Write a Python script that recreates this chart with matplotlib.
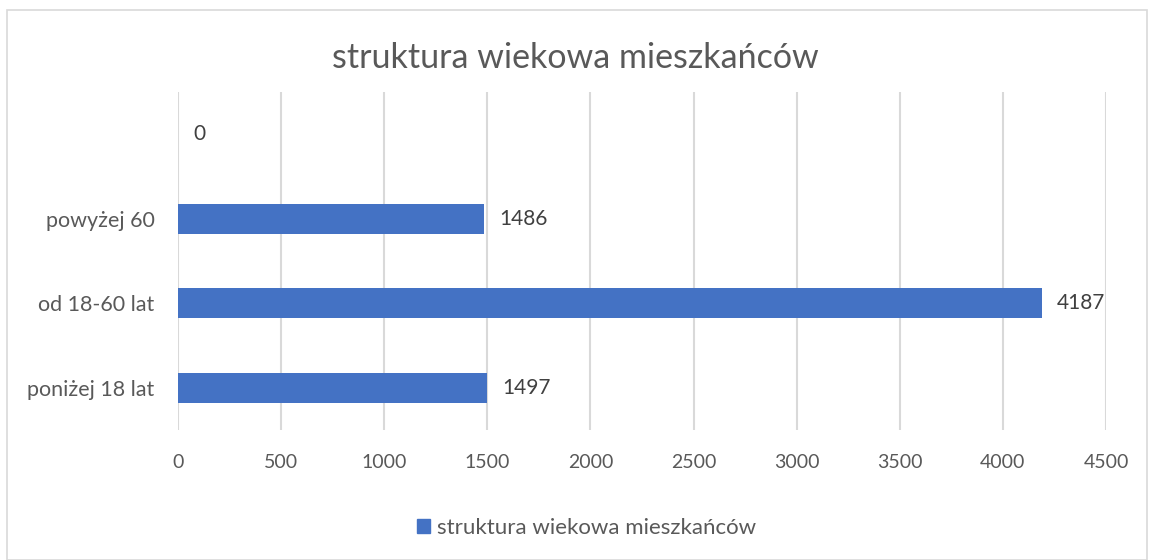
import matplotlib.pyplot as plt
from matplotlib.patches import Rectangle, Patch

# data
categories = ['poniżej 18 lat', 'od 18-60 lat', 'powyżej 60', '']
values = [1497, 4187, 1486, 0]
x_ticks = [0, 500, 1000, 1500, 2000, 2500, 3000, 3500, 4000, 4500]
title = 'struktura wiekowa mieszkańców'
series_name = 'struktura wiekowa mieszkańców'

plt.rcParams['font.family'] = ['Lato', 'DejaVu Sans']
bar_color = '#4472C4'
text_gray = '#595959'

fig = plt.figure(figsize=(11.5, 5.6), dpi=100)
ax = fig.add_axes([0.1548, 0.2321, 0.8070, 0.6036])

# chart border like in the spreadsheet export
fig.patches.append(Rectangle((7 / 1150, 0.0), 1140 / 1150, 550 / 560,
                             transform=fig.transFigure, fill=False,
                             edgecolor='#D9D9D9', linewidth=1.2))

ypos = range(len(categories))
bars = ax.barh(ypos, values, height=0.36, color=bar_color, zorder=3)
for b, v in zip(bars, values):
    ax.annotate(str(v), (b.get_width(), b.get_y() + b.get_height() / 2),
                xytext=(11, 0), textcoords='offset points', va='center',
                ha='left', fontsize=15, color='#404040')

ax.set_xlim(0, 4500)
ax.set_ylim(-0.5, len(categories) - 0.5)
ax.set_xticks(x_ticks)
ax.set_xticklabels([str(t) for t in x_ticks])
ax.set_yticks(list(ypos))
ax.set_yticklabels(categories)
ax.tick_params(axis='both', length=0, labelcolor=text_gray)
ax.tick_params(axis='x', pad=17, labelsize=14)
ax.tick_params(axis='y', pad=17, labelsize=15.5)
ax.grid(axis='x', color='#D9D9D9', linewidth=1.5, zorder=0)
for s in ax.spines.values():
    s.set_visible(False)

fig.text(0.5, 0.897, title, ha='center', va='center', fontsize=24.5,
         color=text_gray)

fig.legend(handles=[Patch(color=bar_color, label=series_name)],
           loc='center', bbox_to_anchor=(0.51, 0.058), frameon=False,
           fontsize=16, labelcolor=text_gray, handlelength=0.6,
           handleheight=0.6, handletextpad=0.3)

fig.savefig('out.png', dpi=100)
